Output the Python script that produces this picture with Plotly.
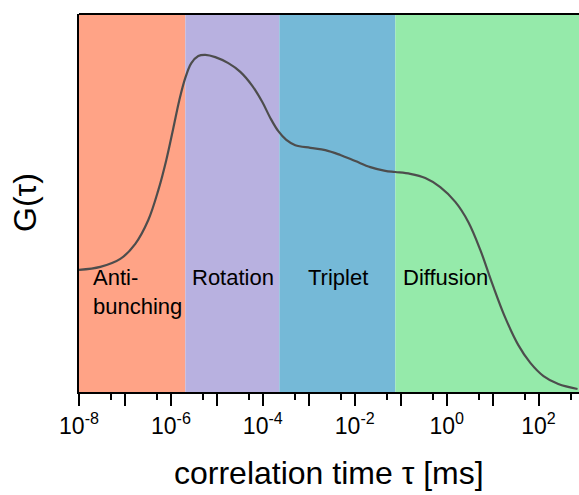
import plotly.graph_objects as go

# correlation curve: log10 of correlation time (ms) and G in arbitrary units
tau_exp = [-8.0, -7.536, -7.101, -6.775, -6.492, -6.274, -6.100, -5.948, -5.817, -5.687,
           -5.556, -5.404, -5.252, -5.034, -4.751, -4.490, -4.229, -4.011, -3.837, -3.663,
           -3.489, -3.293, -2.967, -2.640, -2.314, -1.987, -1.661, -1.335, -1.118, -0.792,
           -0.465, -0.139, 0.188, 0.471, 0.732, 0.994, 1.277, 1.560, 1.821, 2.108, 2.430, 2.848]
G = [0.323, 0.331, 0.352, 0.392, 0.455, 0.534, 0.614, 0.698, 0.772, 0.831,
     0.870, 0.889, 0.892, 0.886, 0.870, 0.847, 0.810, 0.767, 0.725, 0.690,
     0.667, 0.653, 0.646, 0.640, 0.627, 0.611, 0.595, 0.585, 0.582, 0.577,
     0.566, 0.542, 0.503, 0.450, 0.376, 0.286, 0.196, 0.124, 0.077, 0.042, 0.021, 0.008]
tau = [10.0 ** e for e in tau_exp]

# process regions
region_names = ["Anti-<br>bunching", "Rotation", "Triplet", "Diffusion"]
region_edges = [1e-8, 2.06e-6, 2.29e-4, 7.66e-2, 1e3]
region_colors = ["#FFA386", "#B8B1E0", "#75B9D7", "#95EAAA"]
label_log_x = [-7.732, -5.578, -3.051, -0.986]

# axis ticks
major_exp = list(range(-8, 3))
minor_vals = [5 * 10.0 ** e for e in range(-8, 3)]

FONT = "Liberation Sans, Arial, sans-serif"

fig = go.Figure()

for x0, x1, c in zip(region_edges[:-1], region_edges[1:], region_colors):
    fig.add_trace(go.Scatter(x=[x0, x0, x1, x1, x0], y=[0, 1, 1, 0, 0], fill="toself",
                             fillcolor=c, line=dict(width=0), mode="lines",
                             hoverinfo="skip", showlegend=False))

fig.add_trace(go.Scatter(x=tau, y=G, mode="lines",
                         line=dict(color="#4d4d4d", width=2.2, shape="spline", smoothing=1.0),
                         showlegend=False))

for name, lx in zip(region_names, label_log_x):
    fig.add_annotation(x=lx, y=0.342, xref="x", yref="y", text=name, showarrow=False,
                       xanchor="left", yanchor="top", align="left",
                       font=dict(family=FONT, size=22, color="black"))

tickvals = [10.0 ** e for e in major_exp]
ticktext = ["10<sup>%d</sup>" % e if e % 2 == 0 else "" for e in major_exp]

fig.update_xaxes(type="log", range=[-8, 2.88], showgrid=False, zeroline=False,
                 showline=True, linecolor="black", linewidth=2, mirror=False,
                 ticks="outside", ticklen=12, tickwidth=2, tickcolor="black",
                 tickmode="array", tickvals=tickvals, ticktext=ticktext,
                 tickfont=dict(family=FONT, size=23, color="black"),
                 minor=dict(tickmode="array", tickvals=minor_vals, ticks="outside",
                            ticklen=6, tickwidth=2, tickcolor="black"))
fig.update_yaxes(range=[0, 1], showgrid=False, zeroline=False, showline=True,
                 linecolor="black", linewidth=2, showticklabels=False, ticks="")

# top frame line
fig.add_shape(type="line", xref="paper", yref="paper", x0=0, x1=1, y0=1, y1=1,
              line=dict(color="black", width=2))

fig.add_annotation(xref="paper", yref="paper", x=0.5, y=0, yshift=-101, text="correlation time τ [ms]",
                   showarrow=False, xanchor="center", yanchor="bottom",
                   font=dict(family=FONT, size=32, color="black"))
fig.add_annotation(xref="paper", yref="paper", x=0, xshift=-54, y=0.5, text="G(τ)", textangle=-90,
                   showarrow=False, xanchor="center", yanchor="middle",
                   font=dict(family=FONT, size=32, color="black"))

fig.update_layout(width=579, height=495, margin=dict(l=79, r=0, t=14, b=103),
                  plot_bgcolor="white", paper_bgcolor="white", showlegend=False)

fig.write_html("out.html")
